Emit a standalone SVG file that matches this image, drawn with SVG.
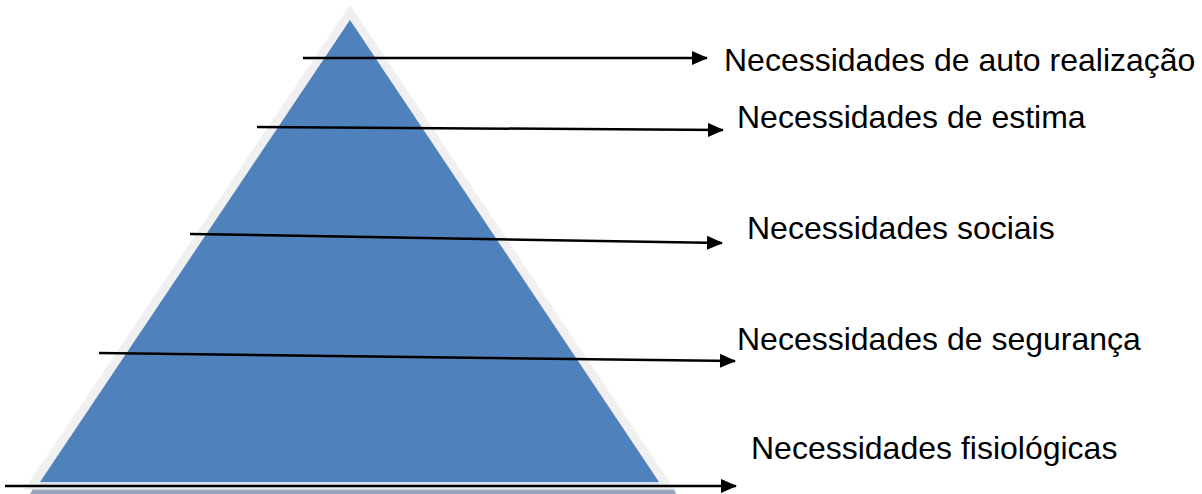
<svg xmlns="http://www.w3.org/2000/svg" width="1202" height="494" viewBox="0 0 1202 494">
<style>
.lbl{font-family:"Liberation Sans",Arial,sans-serif;font-size:32px;fill:#000}
.arr{stroke:#000;stroke-width:2.5;fill:none;marker-end:url(#ah)}
</style>
<defs>
<marker id="ah" markerUnits="userSpaceOnUse" markerWidth="16" markerHeight="14" refX="15" refY="7" orient="auto">
<path d="M0,0 L16,7 L0,14 Z" fill="#000"/>
</marker>
</defs>
<rect width="1202" height="494" fill="#fff"/>
<g id="pyramid">
<polygon points="350,5 24,490 675,490" fill="#F0F0F0"/>
<polygon points="350,20 40,482 659,482" fill="#4F81BD"/>
<rect x="40" y="482" width="619" height="3" fill="#DCE3EC"/>
<polygon points="33,489 674,489 676,494 30,494" fill="#95A3B5"/>
<rect x="33" y="489" width="641" height="1.2" fill="#C9D2DC"/>
</g>
<g id="connectors">
<line class="arr" x1="303" y1="58" x2="707" y2="58"/>
<line class="arr" x1="257" y1="127" x2="723" y2="130"/>
<line class="arr" x1="190" y1="234" x2="722" y2="243"/>
<line class="arr" x1="99" y1="353" x2="735" y2="361"/>
<line class="arr" x1="5" y1="486" x2="736" y2="486"/>
</g>
<g id="n1"><text class="lbl" x="724" y="71">Necessidades de auto realização</text></g>
<g id="n2"><text class="lbl" x="737" y="128">Necessidades de estima</text></g>
<g id="n3"><text class="lbl" x="747" y="239">Necessidades sociais</text></g>
<g id="n4"><text class="lbl" x="737" y="350">Necessidades de segurança</text></g>
<g id="n5"><text class="lbl" x="751" y="459">Necessidades fisiológicas</text></g>
</svg>
